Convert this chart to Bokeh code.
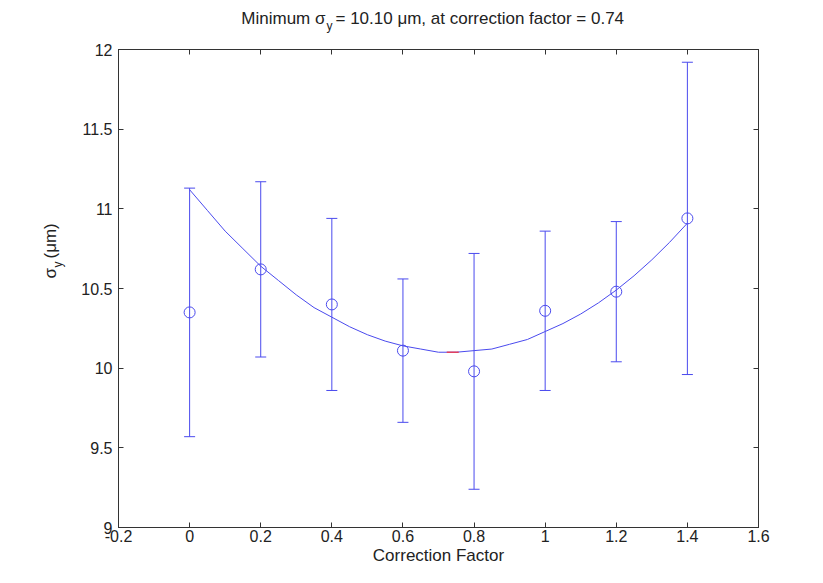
import math
from bokeh.plotting import figure
from bokeh.layouts import column, row
from bokeh.models import (ColumnDataSource, Whisker, TeeHead, FixedTicker, LinearAxis,
                          Label, Range1d)
from bokeh.embed import file_html
from bokeh.resources import INLINE

# ---- data ----
corr_factor = [0.0, 0.2, 0.4, 0.6, 0.8, 1.0, 1.2, 1.4]
sigma_y = [10.35, 10.62, 10.40, 10.11, 9.98, 10.36, 10.48, 10.94]
sigma_err = [0.78, 0.55, 0.54, 0.45, 0.74, 0.50, 0.44, 0.98]

fit_x = [0.00, 0.05, 0.10, 0.15, 0.20, 0.25, 0.30, 0.35, 0.40, 0.45, 0.50, 0.55,
         0.60, 0.65, 0.70, 0.75, 0.80, 0.85, 0.90, 0.95, 1.00, 1.05, 1.10, 1.15,
         1.20, 1.25, 1.30, 1.35, 1.40]
fit_y = [11.12, 10.99, 10.86, 10.75, 10.64, 10.55, 10.46, 10.38, 10.32, 10.26,
         10.21, 10.17, 10.14, 10.12, 10.10, 10.10, 10.11, 10.12, 10.15, 10.18,
         10.23, 10.28, 10.34, 10.41, 10.49, 10.58, 10.68, 10.79, 10.91]

min_x = [0.74]
min_y = [10.10]

x_ticks = [-0.2, 0.0, 0.2, 0.4, 0.6, 0.8, 1.0, 1.2, 1.4, 1.6]
x_tick_labels = ["-0.2", "0", "0.2", "0.4", "0.6", "0.8", "1", "1.2", "1.4", "1.6"]
y_ticks = [9.0, 9.5, 10.0, 10.5, 11.0, 11.5, 12.0]
y_tick_labels = ["9", "9.5", "10", "10.5", "11", "11.5", "12"]

FONT = "Liberation Sans"
BLUE = "#4a4aee"
AXC = "#333333"
TXT = "#222222"

W, H = 807, 567
TITLE_H = 38
YLAB_W = 76
MAIN_W, MAIN_H = W - YLAB_W, H - TITLE_H


def text_fig(width, height):
    f = figure(width=width, height=height, output_backend="svg", toolbar_location=None,
               x_axis_type=None, y_axis_type=None, x_range=Range1d(0, 1),
               y_range=Range1d(0, 1), min_border=0, min_border_left=0,
               min_border_right=0, min_border_top=0, min_border_bottom=0)
    f.outline_line_color = None
    f.grid.visible = False
    f.background_fill_color = "white"
    f.border_fill_color = "white"
    return f


def lab(f, x, y, text, size, align="left", angle=0.0):
    f.add_layout(Label(x=x, y=y, x_units="screen", y_units="screen",
                       text=text, angle=angle, text_font=FONT, text_font_size=size,
                       text_align=align, text_baseline="middle", text_color=TXT))


# ---- title strip ----
tf = text_fig(W, TITLE_H)
lab(tf, 325, TITLE_H - 18, "Minimum σ", "17px", "right")
lab(tf, 326, TITLE_H - 25, "y", "12px")
lab(tf, 335, TITLE_H - 18, "= 10.10 μm, at correction factor = 0.74", "17px")

# ---- y label strip ----
yf = text_fig(YLAB_W, MAIN_H)
lab(yf, 50, H - 318, "σ", "17px", angle=math.pi / 2)
lab(yf, 57, H - 307, "y", "12px", angle=math.pi / 2)
lab(yf, 50, H - 298, "(μm)", "17px", angle=math.pi / 2)

# ---- main plot ----
p = figure(width=MAIN_W, height=MAIN_H, output_backend="svg", toolbar_location=None,
           x_range=Range1d(-0.2, 1.6), y_range=Range1d(9, 12),
           min_border_left=118 - YLAB_W, min_border_right=49,
           min_border_top=49 - TITLE_H, min_border_bottom=37)
p.grid.visible = False
p.outline_line_color = AXC
p.outline_line_width = 1
p.background_fill_color = "white"
p.border_fill_color = "white"

src = ColumnDataSource(dict(x=corr_factor, y=sigma_y,
                            lo=[v - e for v, e in zip(sigma_y, sigma_err)],
                            hi=[v + e for v, e in zip(sigma_y, sigma_err)]))

p.line(fit_x, fit_y, line_color=BLUE, line_width=1)
w = Whisker(source=src, base="x", upper="hi", lower="lo", dimension="height",
            line_color=BLUE, line_width=1,
            upper_head=TeeHead(size=11, line_color=BLUE, line_width=1),
            lower_head=TeeHead(size=11, line_color=BLUE, line_width=1))
p.add_layout(w)
p.scatter("x", "y", source=src, marker="circle", size=11, fill_color=None,
          line_color=BLUE, line_width=1)
p.scatter(min_x, min_y, marker="dash", size=12, line_color="#e04060", line_width=1.5)


def style_axis(ax, show_labels=True):
    ax.major_tick_in = 5
    ax.major_tick_out = 0
    ax.minor_tick_in = 0
    ax.minor_tick_out = 0
    ax.axis_line_color = AXC
    ax.major_tick_line_color = AXC
    ax.major_label_text_font = FONT
    ax.major_label_text_font_size = "16px"
    ax.major_label_text_color = TXT
    if not show_labels:
        ax.major_label_text_font_size = "0px"
        ax.major_label_standoff = 0


p.xaxis.ticker = FixedTicker(ticks=x_ticks)
p.yaxis.ticker = FixedTicker(ticks=y_ticks)
p.xaxis.major_label_overrides = {t: l for t, l in zip(x_ticks, x_tick_labels)}
p.yaxis.major_label_overrides = {t: l for t, l in zip(y_ticks, y_tick_labels)}
style_axis(p.xaxis[0])
style_axis(p.yaxis[0])
p.xaxis.major_label_standoff = 2
p.yaxis.major_label_standoff = 6
p.xaxis.axis_label = "Correction Factor"
p.xaxis.axis_label_text_font = FONT
p.xaxis.axis_label_text_font_style = "normal"
p.xaxis.axis_label_text_font_size = "17px"
p.xaxis.axis_label_text_color = TXT
p.xaxis.axis_label_standoff = 1

top = LinearAxis(ticker=FixedTicker(ticks=x_ticks))
style_axis(top, False)
p.add_layout(top, "above")
right = LinearAxis(ticker=FixedTicker(ticks=y_ticks))
style_axis(right, False)
p.add_layout(right, "right")

layout = column(tf, row(yf, p))
open("out.html", "w").write(file_html(layout, INLINE))
